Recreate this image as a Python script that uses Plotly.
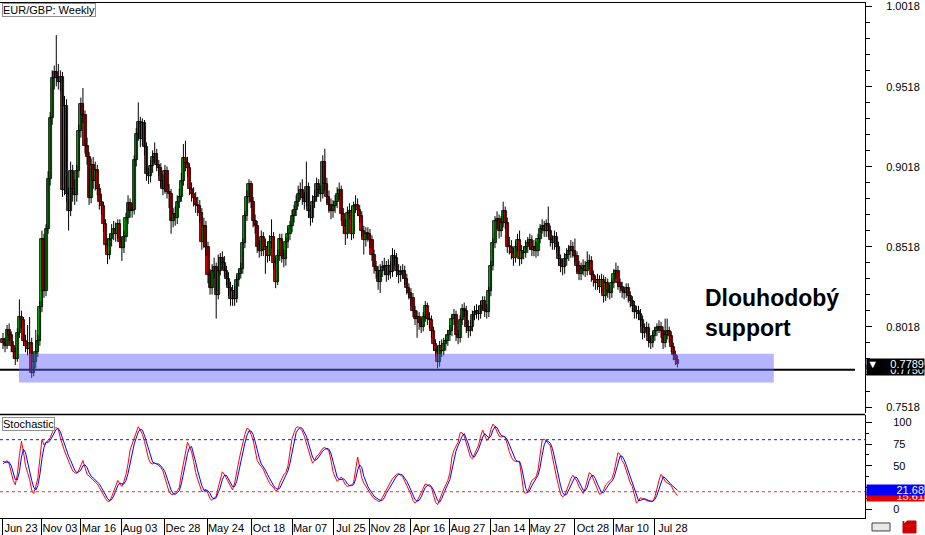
import plotly.graph_objects as go

# ---------------- data ----------------
tick_labels = ["Jun 23", "Nov 03", "Mar 16", "Aug 03", "Dec 28", "May 24", "Oct 18", "Mar 07",
               "Jul 25", "Nov 28", "Apr 16", "Aug 27", "Jan 14", "May 27", "Oct 28", "Mar 10", "Jul 28"]
tick_bars = [0, 19, 38, 58, 79, 100, 121, 141, 161, 179, 199, 218, 238, 257, 279, 298, 318]

price_ticks = [0.7518, 0.8018, 0.8518, 0.9018, 0.9518, 1.0018]
stoch_ticks = [0, 50, 75, 100]

opens = [
    0.794,0.792,0.790,0.800,0.797,0.790,0.786,0.782,0.798,0.808,
    0.806,0.793,0.790,0.788,0.792,0.773,0.780,0.786,0.793,0.814,
    0.857,0.824,0.863,0.894,0.932,0.957,0.961,0.957,0.955,0.958,
    0.887,0.940,0.885,0.874,0.899,0.888,0.884,0.899,0.924,0.941,
    0.934,0.915,0.908,0.882,0.903,0.893,0.900,0.888,0.880,0.877,
    0.866,0.853,0.847,0.857,0.860,0.863,0.860,0.866,0.855,0.851,
    0.858,0.870,0.879,0.874,0.875,0.906,0.922,0.930,0.919,0.929,
    0.914,0.897,0.896,0.902,0.908,0.910,0.903,0.901,0.893,0.888,
    0.899,0.886,0.885,0.868,0.872,0.870,0.880,0.883,0.893,0.907,
    0.904,0.901,0.888,0.885,0.882,0.878,0.877,0.873,0.855,0.865,
    0.852,0.834,0.826,0.837,0.839,0.822,0.837,0.845,0.842,0.837,
    0.832,0.826,0.819,0.824,0.819,0.831,0.835,0.838,0.854,0.871,
    0.883,0.891,0.880,0.868,0.865,0.852,0.849,0.858,0.850,0.852,
    0.846,0.855,0.858,0.842,0.830,0.846,0.857,0.846,0.844,0.855,
    0.860,0.865,0.871,0.875,0.880,0.885,0.887,0.882,0.880,0.889,
    0.874,0.870,0.880,0.883,0.891,0.887,0.885,0.905,0.891,0.883,
    0.878,0.874,0.877,0.880,0.885,0.887,0.872,0.865,0.860,0.873,
    0.874,0.860,0.877,0.878,0.875,0.871,0.862,0.856,0.860,0.860,
    0.856,0.847,0.839,0.837,0.830,0.837,0.839,0.840,0.834,0.840,
    0.836,0.846,0.845,0.837,0.834,0.836,0.837,0.832,0.826,0.823,
    0.820,0.812,0.807,0.808,0.804,0.802,0.808,0.815,0.807,0.806,
    0.799,0.791,0.787,0.780,0.790,0.787,0.791,0.793,0.797,0.799,
    0.807,0.809,0.797,0.795,0.806,0.813,0.812,0.802,0.799,0.802,
    0.809,0.811,0.812,0.810,0.815,0.818,0.812,0.811,0.824,0.840,
    0.854,0.868,0.869,0.862,0.867,0.874,0.867,0.852,0.852,0.848,
    0.845,0.852,0.856,0.844,0.849,0.848,0.852,0.854,0.856,0.850,
    0.852,0.849,0.857,0.863,0.865,0.862,0.866,0.862,0.856,0.854,
    0.858,0.852,0.844,0.840,0.839,0.844,0.847,0.849,0.852,0.849,
    0.846,0.840,0.835,0.838,0.840,0.837,0.842,0.843,0.834,0.831,
    0.829,0.831,0.827,0.831,0.821,0.829,0.824,0.823,0.829,0.835,
    0.837,0.829,0.827,0.824,0.823,0.826,0.821,0.818,0.815,0.811,
    0.812,0.810,0.806,0.798,0.801,0.801,0.793,0.792,0.796,0.799,
    0.801,0.802,0.799,0.792,0.797,0.799,0.796,0.789,0.784,0.781,
]
highs = [
    0.798,0.795,0.803,0.804,0.799,0.793,0.789,0.801,0.819,0.812,
    0.808,0.797,0.803,0.808,0.795,0.785,0.800,0.797,0.818,0.862,
    0.860,0.866,0.899,0.936,0.962,0.965,0.984,0.966,0.962,0.961,
    0.946,0.944,0.889,0.905,0.903,0.894,0.903,0.928,0.945,0.951,
    0.937,0.920,0.911,0.907,0.908,0.905,0.903,0.891,0.885,0.880,
    0.869,0.857,0.860,0.866,0.868,0.867,0.869,0.869,0.858,0.862,
    0.873,0.884,0.882,0.879,0.909,0.926,0.942,0.933,0.932,0.931,
    0.917,0.901,0.906,0.912,0.917,0.913,0.906,0.904,0.897,0.903,
    0.902,0.891,0.888,0.876,0.877,0.884,0.888,0.898,0.916,0.918,
    0.908,0.904,0.892,0.889,0.886,0.883,0.881,0.876,0.870,0.868,
    0.855,0.838,0.841,0.845,0.842,0.847,0.848,0.849,0.846,0.840,
    0.836,0.830,0.828,0.827,0.834,0.838,0.842,0.857,0.874,0.887,
    0.894,0.893,0.883,0.872,0.868,0.856,0.862,0.861,0.857,0.855,
    0.859,0.869,0.861,0.845,0.850,0.860,0.860,0.850,0.858,0.864,
    0.868,0.875,0.878,0.884,0.890,0.892,0.894,0.886,0.905,0.892,
    0.878,0.884,0.887,0.895,0.894,0.890,0.909,0.913,0.895,0.887,
    0.882,0.881,0.884,0.889,0.892,0.890,0.876,0.869,0.877,0.879,
    0.877,0.880,0.884,0.882,0.878,0.874,0.865,0.864,0.864,0.863,
    0.859,0.850,0.843,0.840,0.841,0.843,0.845,0.843,0.844,0.843,
    0.851,0.850,0.848,0.841,0.840,0.841,0.840,0.835,0.829,0.826,
    0.823,0.815,0.812,0.811,0.807,0.811,0.818,0.817,0.811,0.809,
    0.802,0.794,0.790,0.793,0.794,0.795,0.797,0.800,0.803,0.810,
    0.813,0.812,0.800,0.809,0.816,0.817,0.815,0.806,0.806,0.812,
    0.815,0.816,0.815,0.818,0.821,0.821,0.816,0.827,0.843,0.857,
    0.871,0.874,0.872,0.871,0.880,0.877,0.870,0.858,0.856,0.851,
    0.855,0.860,0.862,0.853,0.852,0.856,0.858,0.860,0.859,0.856,
    0.855,0.860,0.866,0.869,0.868,0.869,0.877,0.865,0.859,0.862,
    0.861,0.855,0.847,0.844,0.848,0.851,0.853,0.856,0.855,0.857,
    0.849,0.843,0.842,0.844,0.843,0.849,0.847,0.846,0.837,0.834,
    0.835,0.834,0.835,0.834,0.833,0.832,0.828,0.832,0.838,0.842,
    0.840,0.832,0.830,0.827,0.829,0.829,0.824,0.821,0.818,0.815,
    0.815,0.813,0.809,0.804,0.805,0.804,0.796,0.799,0.802,0.804,
    0.806,0.805,0.802,0.807,0.807,0.802,0.799,0.792,0.787,0.784,
]
lows = [
    0.788,0.786,0.788,0.793,0.786,0.782,0.778,0.780,0.795,0.801,
    0.790,0.786,0.784,0.785,0.770,0.771,0.776,0.783,0.790,0.811,
    0.820,0.821,0.860,0.890,0.928,0.950,0.952,0.950,0.949,0.883,
    0.884,0.880,0.862,0.871,0.880,0.878,0.880,0.895,0.920,0.929,
    0.910,0.903,0.878,0.879,0.888,0.887,0.884,0.875,0.872,0.861,
    0.849,0.841,0.844,0.852,0.856,0.855,0.857,0.851,0.843,0.848,
    0.855,0.866,0.870,0.870,0.872,0.902,0.918,0.914,0.915,0.909,
    0.893,0.891,0.892,0.898,0.904,0.899,0.896,0.889,0.884,0.885,
    0.882,0.876,0.860,0.864,0.865,0.866,0.876,0.880,0.890,0.899,
    0.896,0.884,0.880,0.877,0.873,0.871,0.867,0.850,0.851,0.846,
    0.829,0.822,0.822,0.832,0.807,0.819,0.834,0.838,0.833,0.828,
    0.821,0.815,0.815,0.815,0.817,0.827,0.832,0.835,0.851,0.868,
    0.879,0.876,0.864,0.860,0.848,0.845,0.846,0.846,0.835,0.842,
    0.843,0.851,0.838,0.826,0.828,0.843,0.842,0.839,0.840,0.851,
    0.856,0.861,0.867,0.871,0.877,0.881,0.878,0.875,0.877,0.870,
    0.865,0.867,0.876,0.880,0.883,0.880,0.882,0.887,0.879,0.873,
    0.869,0.870,0.873,0.876,0.881,0.868,0.860,0.853,0.857,0.869,
    0.856,0.857,0.873,0.871,0.867,0.858,0.847,0.852,0.855,0.851,
    0.843,0.835,0.832,0.825,0.823,0.833,0.834,0.830,0.831,0.832,
    0.833,0.840,0.833,0.829,0.830,0.832,0.828,0.822,0.819,0.815,
    0.808,0.803,0.795,0.800,0.798,0.799,0.805,0.803,0.801,0.795,
    0.787,0.783,0.776,0.777,0.783,0.784,0.787,0.790,0.793,0.796,
    0.803,0.793,0.791,0.792,0.803,0.808,0.798,0.795,0.796,0.799,
    0.806,0.807,0.806,0.807,0.812,0.808,0.807,0.808,0.821,0.837,
    0.851,0.863,0.857,0.858,0.864,0.863,0.848,0.847,0.844,0.840,
    0.842,0.849,0.840,0.841,0.844,0.845,0.848,0.850,0.846,0.846,
    0.845,0.846,0.854,0.860,0.858,0.858,0.858,0.852,0.850,0.850,
    0.848,0.840,0.836,0.834,0.835,0.840,0.843,0.845,0.845,0.842,
    0.836,0.831,0.831,0.834,0.833,0.834,0.838,0.830,0.827,0.825,
    0.825,0.823,0.823,0.817,0.818,0.820,0.819,0.820,0.826,0.832,
    0.825,0.823,0.820,0.819,0.820,0.817,0.814,0.811,0.807,0.807,
    0.806,0.802,0.794,0.795,0.797,0.789,0.788,0.789,0.793,0.796,
    0.798,0.795,0.788,0.789,0.794,0.792,0.786,0.781,0.778,0.7765,
]
closes = [
    0.792,0.790,0.800,0.797,0.790,0.786,0.782,0.798,0.808,0.806,
    0.793,0.790,0.788,0.792,0.773,0.780,0.786,0.793,0.814,0.857,
    0.824,0.863,0.894,0.932,0.957,0.961,0.957,0.955,0.958,0.887,
    0.940,0.885,0.874,0.899,0.888,0.884,0.899,0.924,0.941,0.934,
    0.915,0.908,0.882,0.903,0.893,0.900,0.888,0.880,0.877,0.866,
    0.853,0.847,0.857,0.860,0.863,0.860,0.866,0.855,0.851,0.858,
    0.870,0.879,0.874,0.875,0.906,0.922,0.930,0.919,0.929,0.914,
    0.897,0.896,0.902,0.908,0.910,0.903,0.901,0.893,0.888,0.899,
    0.886,0.885,0.868,0.872,0.870,0.880,0.883,0.893,0.907,0.904,
    0.901,0.888,0.885,0.882,0.878,0.877,0.873,0.855,0.865,0.852,
    0.834,0.826,0.837,0.839,0.822,0.837,0.845,0.842,0.837,0.832,
    0.826,0.819,0.824,0.819,0.831,0.835,0.838,0.854,0.871,0.883,
    0.891,0.880,0.868,0.865,0.852,0.849,0.858,0.850,0.852,0.846,
    0.855,0.858,0.842,0.830,0.846,0.857,0.846,0.844,0.855,0.860,
    0.865,0.871,0.875,0.880,0.885,0.887,0.882,0.880,0.889,0.874,
    0.870,0.880,0.883,0.891,0.887,0.885,0.905,0.891,0.883,0.878,
    0.874,0.877,0.880,0.885,0.887,0.872,0.865,0.860,0.873,0.874,
    0.860,0.877,0.878,0.875,0.871,0.862,0.856,0.860,0.860,0.856,
    0.847,0.839,0.837,0.830,0.837,0.839,0.840,0.834,0.840,0.836,
    0.846,0.845,0.837,0.834,0.836,0.837,0.832,0.826,0.823,0.820,
    0.812,0.807,0.808,0.804,0.802,0.808,0.815,0.807,0.806,0.799,
    0.791,0.787,0.780,0.790,0.787,0.791,0.793,0.797,0.799,0.807,
    0.809,0.797,0.795,0.806,0.813,0.812,0.802,0.799,0.802,0.809,
    0.811,0.812,0.810,0.815,0.818,0.812,0.811,0.824,0.840,0.854,
    0.868,0.869,0.862,0.867,0.874,0.867,0.852,0.852,0.848,0.845,
    0.852,0.856,0.844,0.849,0.848,0.852,0.854,0.856,0.850,0.852,
    0.849,0.857,0.863,0.865,0.862,0.866,0.862,0.856,0.854,0.858,
    0.852,0.844,0.840,0.839,0.844,0.847,0.849,0.852,0.849,0.846,
    0.840,0.835,0.838,0.840,0.837,0.842,0.843,0.834,0.831,0.829,
    0.831,0.827,0.831,0.821,0.829,0.824,0.823,0.829,0.835,0.837,
    0.829,0.827,0.824,0.823,0.826,0.821,0.818,0.815,0.811,0.812,
    0.810,0.806,0.798,0.801,0.801,0.793,0.792,0.796,0.799,0.801,
    0.802,0.799,0.792,0.797,0.799,0.796,0.789,0.784,0.781,0.7789,
]
stoch_red = [
    52,54,56,52,42,33,28,40,62,78,
    66,50,42,34,22,18,26,36,58,80,
    74,77,79,82,88,93,94,92,82,73,
    67,61,56,50,44,42,41,45,50,56,
    48,40,38,36,34,32,29,25,20,15,
    12,9,9,14,21,28,33,29,26,32,
    40,52,68,75,82,90,95,91,86,78,
    66,58,53,52,53,52,50,48,44,37,
    28,20,17,17,18,21,25,40,52,64,
    77,72,66,55,42,34,26,20,21,23,
    18,12,10,13,15,25,35,43,40,35,
    31,26,22,30,44,55,66,77,86,93,
    92,86,80,68,56,52,49,46,40,34,
    30,27,25,21,22,30,36,40,42,50,
    66,81,88,94,95,93,90,84,77,68,
    60,53,56,61,63,67,70,71,69,67,
    56,43,37,32,34,37,33,28,26,27,
    28,30,45,60,48,36,30,26,22,18,
    15,12,11,9,9,13,18,22,27,31,
    35,38,40,41,39,37,32,27,22,17,
    10,7,9,14,20,25,29,28,26,25,
    16,8,5,11,19,23,28,33,42,60,
    68,73,77,88,88,84,75,66,60,58,
    63,70,74,84,91,85,79,82,92,98,
    95,89,84,83,84,83,74,66,60,56,
    55,55,54,34,20,18,20,27,33,35,
    37,45,62,79,81,78,76,73,60,46,
    37,27,17,14,16,22,29,35,39,36,
    32,26,22,18,24,33,42,40,34,30,
    22,17,18,22,28,30,32,35,42,55,
    65,63,56,52,44,37,30,26,15,7,
    9,13,12,11,10,9,9,9,14,24,
    33,40,37,32,30,28,27,22,18,15.61,
]
stoch_blue = [
    55,54,54,54,50,42,34,34,43,60,
    69,65,53,42,33,25,22,27,40,58,
    71,77,77,79,83,88,92,93,89,82,
    74,67,61,56,50,45,42,43,45,50,
    51,48,42,38,36,34,32,29,25,20,
    16,12,10,11,15,21,27,30,29,29,
    33,41,53,65,75,82,89,92,91,85,
    77,67,59,54,53,52,52,50,47,43,
    36,28,22,18,17,19,21,29,39,52,
    64,71,72,64,54,44,34,27,22,21,
    21,18,13,12,13,18,25,34,39,39,
    35,31,26,26,32,43,55,66,76,85,
    90,90,86,78,68,59,52,49,45,40,
    35,30,27,24,23,24,29,35,39,44,
    53,66,78,88,92,94,93,89,84,76,
    68,60,56,57,60,64,67,69,70,69,
    64,55,45,37,34,34,35,33,29,27,
    27,28,34,45,51,48,38,31,26,22,
    18,15,13,11,10,10,13,18,22,27,
    31,35,38,40,40,39,36,32,27,22,
    16,11,9,10,14,20,25,27,28,26,
    22,16,10,8,12,18,23,28,34,45,
    57,67,73,79,84,87,82,75,67,61,
    60,64,69,76,83,87,85,82,84,91,
    95,94,89,85,84,83,80,74,67,61,
    57,55,55,48,36,24,19,22,27,32,
    35,39,48,62,74,79,78,76,70,60,
    48,37,27,19,16,17,22,29,34,37,
    36,31,27,22,21,25,33,38,39,35,
    29,23,19,19,23,27,30,32,36,44,
    54,61,61,57,51,44,37,31,24,16,
    10,10,11,12,11,10,9,9,11,16,
    24,32,37,36,33,30,28,26,24,21.68,
]

support_level = 0.7750
zone_low = 0.7671
zone_high = 0.7851
stoch_upper = 80
stoch_lower = 20

bars = list(range(len(closes)))
last_price = closes[-1]

# ---------------- figure ----------------
FONT = "Liberation Sans, Arial, sans-serif"
PLOT_W, PLOT_H = 865, 518
BULL, BEAR = "#00B000", "#E00000"

# candle wicks (one polyline, broken between bars)
wick_x, wick_y = [], []
for i, lo, hi in zip(bars, lows, highs):
    wick_x += [i, i, None]
    wick_y += [lo, hi, None]
body_base = [min(o, c) for o, c in zip(opens, closes)]
body_size = [max(abs(c - o), 0.0004) for o, c in zip(opens, closes)]
body_color = [BULL if c >= o else BEAR for o, c in zip(opens, closes)]

fig = go.Figure()
fig.add_trace(go.Scatter(x=wick_x, y=wick_y, mode="lines", line=dict(color="black", width=1),
                         xaxis="x", yaxis="y", showlegend=False, hoverinfo="skip"))
fig.add_trace(go.Bar(x=bars, y=body_size, base=body_base, width=1.5,
                     marker=dict(color=body_color, line=dict(color="black", width=0.8)),
                     xaxis="x", yaxis="y", showlegend=False, hoverinfo="skip"))
fig.add_trace(go.Scatter(x=bars, y=stoch_red, mode="lines",
                         line=dict(color="#FF0000", width=1), yaxis="y2", xaxis="x",
                         showlegend=False, hoverinfo="skip"))
fig.add_trace(go.Scatter(x=bars, y=stoch_blue, mode="lines",
                         line=dict(color="#0000FF", width=1), yaxis="y2", xaxis="x",
                         showlegend=False, hoverinfo="skip"))

shapes = [
    dict(type="line", xref="x", yref="y", x0=-1.5, x1=415.6, y0=support_level, y1=support_level,
         line=dict(color="black", width=2), layer="above"),
    dict(type="rect", xref="x", yref="y", x0=7.8, x1=376, y0=zone_low, y1=zone_high,
         fillcolor="rgba(95,95,255,0.47)", line=dict(width=0), layer="above"),
    dict(type="line", xref="paper", yref="y2", x0=0, x1=1, y0=stoch_upper, y1=stoch_upper,
         line=dict(color="#2020C0", width=1, dash="3px,3px")),
    dict(type="line", xref="paper", yref="y2", x0=0, x1=1, y0=stoch_lower, y1=stoch_lower,
         line=dict(color="#E03030", width=1, dash="3px,3px")),
    dict(type="line", xref="paper", yref="paper", x0=0, x1=1, y0=1 - 414 / PLOT_H, y1=1 - 414 / PLOT_H,
         line=dict(color="black", width=1.5)),
    dict(type="line", xref="paper", yref="paper", x0=0, x1=1, y0=1 - 0.5 / PLOT_H, y1=1 - 0.5 / PLOT_H,
         line=dict(color="black", width=1)),
    dict(type="rect", xref="paper", yref="paper", x0=872 / PLOT_W, x1=890 / PLOT_W,
         y0=-13 / PLOT_H, y1=-5 / PLOT_H, line=dict(color="#404040", width=1), fillcolor="#E8E8E8"),
    dict(type="rect", xref="paper", yref="paper", x0=903 / PLOT_W, x1=916 / PLOT_W,
         y0=-15 / PLOT_H, y1=-3 / PLOT_H, line=dict(color="#C00000", width=1), fillcolor="#D00000"),
]

annotations = [
    dict(text="EUR/GBP: Weekly", xref="paper", yref="paper", x=2 / PLOT_W, y=1 - 1 / PLOT_H,
         xanchor="left", yanchor="top", showarrow=False, bgcolor="white", bordercolor="#909090",
         borderwidth=1, borderpad=0, font=dict(family=FONT, size=11, color="black")),
    dict(text="Stochastic", xref="paper", yref="paper", x=2 / PLOT_W, y=1 - 417 / PLOT_H,
         xanchor="left", yanchor="top", showarrow=False, bgcolor="white", bordercolor="#909090",
         borderwidth=1, borderpad=0, font=dict(family=FONT, size=11, color="black")),
    dict(text="<b>Dlouhodobý<br>support</b>", xref="paper", yref="paper", x=703 / PLOT_W,
         y=1 - 282 / PLOT_H, xanchor="left", yanchor="top", align="left", showarrow=False,
         font=dict(family=FONT, size=23, color="black")),
    dict(text="0.7750", xref="paper", yref="y", x=1, y=support_level, xanchor="left", yanchor="middle",
         xshift=1, showarrow=False, bgcolor="black", width=57, height=10, align="right", borderpad=0,
         font=dict(family=FONT, size=11, color="white")),
    dict(text="\u25BC\u00a0\u00a0\u00a0 " + f"{last_price:.4f}", xref="paper", yref="y", x=1, y=last_price,
         xanchor="left", yanchor="middle", xshift=1, showarrow=False, bgcolor="black", width=57, height=10,
         align="right", borderpad=0, font=dict(family=FONT, size=11, color="white")),
    dict(text=f"{stoch_red[-1]:.2f}", xref="paper", yref="y2", x=1, y=stoch_red[-1], xanchor="left",
         yanchor="middle", xshift=1, showarrow=False, bgcolor="#E00000", width=57, height=10,
         align="right", borderpad=0, font=dict(family=FONT, size=11, color="white")),
    dict(text=f"{stoch_blue[-1]:.2f}", xref="paper", yref="y2", x=1, y=stoch_blue[-1], xanchor="left",
         yanchor="middle", xshift=1, showarrow=False, bgcolor="#0000FF", width=57, height=10,
         align="right", borderpad=0, font=dict(family=FONT, size=11, color="white")),
    dict(text="\u279C", xref="paper", yref="paper", x=909.5 / PLOT_W, y=-9 / PLOT_H, showarrow=False,
         font=dict(family="DejaVu Sans", size=9, color="white")),
]

fig.update_layout(
    width=925, height=535,
    margin=dict(l=0, r=60, t=0, b=17),
    paper_bgcolor="white", plot_bgcolor="white",
    showlegend=False, hovermode=False, bargap=0,
    font=dict(family=FONT, size=11, color="black"),
    xaxis=dict(range=[-1.46, 420.5], anchor="y2",
               showgrid=False, zeroline=False, showline=True, linecolor="black", linewidth=1,
               tickmode="array", tickvals=tick_bars, ticktext=tick_labels,
               ticks="outside", ticklen=17, tickwidth=1, tickcolor="black",
               ticklabelshift=18, ticklabelstandoff=-17, ticklabeloverflow="allow",
               tickfont=dict(family=FONT, size=11, color="black")),
    yaxis=dict(domain=[1 - 413 / PLOT_H, 1], range=[0.74782, 1.00466], side="right", anchor="x",
               showgrid=False, zeroline=False, showline=True, linecolor="black", linewidth=1,
               tickmode="array", tickvals=price_ticks, ticktext=[f"{v:.4f}" for v in price_ticks],
               ticks="outside", ticklen=6, tickcolor="black", ticklabelstandoff=12,
               ticklabeloverflow="allow",
               minor=dict(tickmode="linear", tick0=0.7518, dtick=0.01, ticks="outside",
                          ticklen=4, tickcolor="black", showgrid=False),
               tickfont=dict(family=FONT, size=11, color="black")),
    yaxis2=dict(domain=[0, 1 - 415 / PLOT_H], range=[-10.3, 108], side="right", anchor="x",
                showgrid=False, zeroline=False, showline=True, linecolor="black", linewidth=1,
                tickmode="array", tickvals=stoch_ticks, ticktext=[str(v) for v in stoch_ticks],
                ticks="outside", ticklen=6, tickcolor="black", ticklabelstandoff=19,
                ticklabeloverflow="allow",
                minor=dict(tickmode="linear", tick0=0, dtick=12.5, ticks="outside",
                           ticklen=3, tickcolor="black", showgrid=False),
                tickfont=dict(family=FONT, size=11, color="black")),
    shapes=shapes,
    annotations=annotations,
)

fig.write_html("out.html", config={"displayModeBar": False},
               post_script="document.body.style.margin='0';")
